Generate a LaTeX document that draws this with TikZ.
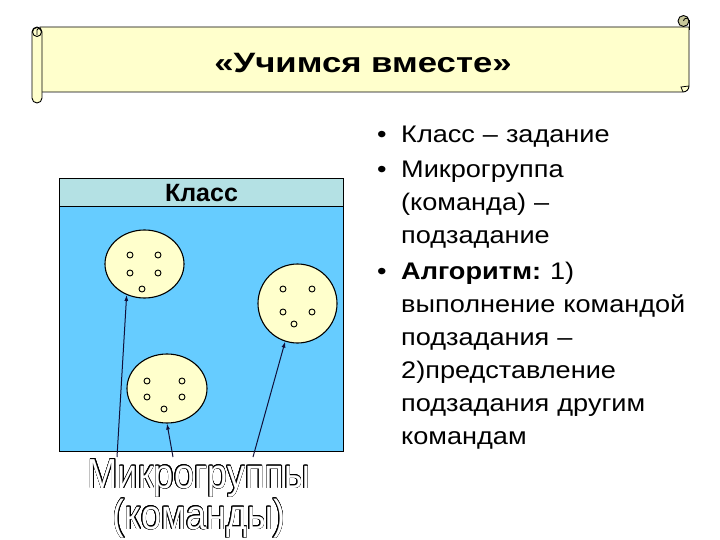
\documentclass[tikz,border=0pt]{standalone}
\usepackage{fontspec}
\setmainfont{Liberation Sans}
\newfontfamily\widesans[FakeStretch=1.13]{Liberation Sans}
\newfontfamily\titlesans[FakeStretch=1.24]{Liberation Sans}
\newfontfamily\narrowsans[FakeStretch=0.86]{Liberation Sans}
\usepackage{contour}
\contourlength{0.45pt}
\usetikzlibrary{positioning,arrows.meta,calc,shapes.geometric}
\definecolor{scrollyellow}{HTML}{FFFFCC}
\definecolor{curlolive}{HTML}{C8C89A}
\definecolor{classblue}{HTML}{66CCFF}
\definecolor{headcyan}{HTML}{B4E1E4}
\definecolor{arrownavy}{HTML}{10103A}
\newcommand\leftlabel[1]{#1\hfil}
\tikzset{>={Latex[length=6pt,width=4pt]}}
\tikzset{
  scroll/.style={draw, line width=0.9pt, fill=scrollyellow},
  group/.style={ellipse, draw, line width=1.1pt, fill=scrollyellow, inner sep=0pt},
  member/.style={draw, line width=0.9pt, fill=scrollyellow},
  pointer/.style={->, draw=arrownavy, line width=1pt},
}

\begin{document}
\begin{tikzpicture}[x=1pt, y=-1pt]
    \useasboundingbox (0,0) rectangle (720,540);
    % scroll banner
    \draw[scroll] (40,27) -- (689,27) -- (689,86) arc (0:90:6) -- (40,92) -- cycle;
    \draw[line width=0.8pt] (683,92) -- (681,87) -- (689,86);
    \draw[scroll] (689,20) -- (689,30);
    \draw[line width=0.9pt, fill=curlolive] (683.5,21) circle (5.5);
    \draw[line width=0.8pt] (683.5,21) arc (180:360:2.8);
    \draw[scroll, rounded corners=5pt] (32,27) rectangle (42,103);
    \draw[line width=0.9pt, fill=scrollyellow] (37,32) circle (4.5);
    \draw[line width=0.8pt] (37,35) -- (37,30) arc (180:360:1.8);
    \node[font=\titlesans\bfseries\fontsize{28}{34}\selectfont, anchor=base] (title) at (363,73) {«Учимся вместе»};
    % class box
    \draw[line width=1pt, fill=classblue] (59,179) rectangle (343,451);
    \draw[line width=1pt, fill=headcyan] (59,179) rectangle (343,207);
    \node[font=\bfseries\fontsize{25}{30}\selectfont, anchor=base] (klass) at (201.5,202) {Класс};
    % microgroups
    \node[group, minimum width=79pt, minimum height=68pt] (g1) at (144.5,264) {};
    \node[group, minimum width=79pt, minimum height=79pt] (g2) at (297.5,303.5) {};
    \node[group, minimum width=80pt, minimum height=69pt] (g3) at (167,388.5) {};
    \foreach \px/\py in {130/255, 158/255, 130/273, 158/273, 142/289,
                         283/289, 312/289, 283/312, 312/312, 294/324,
                         147/381, 182/381, 147/397, 182/397, 164/409}
        \draw[member] (\px,\py) circle (3);
    % label and pointers
    \node[font=\narrowsans\fontsize{42}{41}\selectfont, align=center, anchor=base] (mg) at (199,529)
        {\contour{black}{\textcolor{white}{Микрогруппы}}\\\contour{black}{\textcolor{white}{(команды)}}};
    \coordinate (t1) at (117,457);
    \coordinate (t2) at (173,457);
    \coordinate (t3) at (253,457);
    \draw[pointer] (t1) -- (g1.240);
    \draw[pointer] (t2) -- (g3.south);
    \draw[pointer] (t3) -- (g2.252);
    % task list
    \node[font=\widesans\fontsize{24}{33}\selectfont, text width=330pt, align=left, inner sep=0pt, anchor=north west] (tasks) at (377,109)
    {\begin{list}{\textbullet}{\setlength{\leftmargin}{24pt}\setlength{\labelwidth}{14pt}%
        \setlength{\labelsep}{10pt}\setlength{\itemsep}{2.5pt}\setlength{\parsep}{0pt}%
        \setlength{\topsep}{0pt}\setlength{\partopsep}{0pt}\let\makelabel\leftlabel}
      \item Класс – задание
      \item Микрогруппа\\ (команда) –\\ подзадание
      \item \textbf{Алгоритм:}\kern-3pt{} 1)\\ выполнение командой\\ подзадания –\\ 2)представление\\ подзадания другим\\ командам
    \end{list}};
\end{tikzpicture}
\end{document}
